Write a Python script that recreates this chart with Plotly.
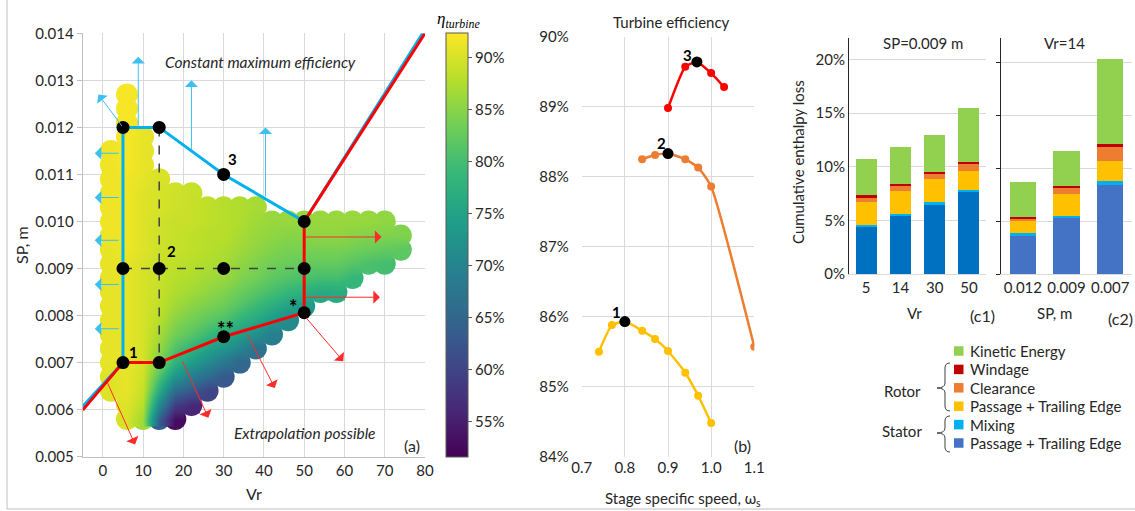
import plotly.graph_objects as go

# ---------------- data: panel (a) efficiency cloud ----------------
vr_cols = [2, 6, 10, 14, 18, 22, 26, 30, 34, 38, 42, 46, 50, 54, 58, 62, 66, 70, 74]
sp_rows = [0.0058, 0.0061, 0.0064, 0.0067, 0.0070, 0.0073, 0.0076, 0.0079, 0.0082, 0.0085,
           0.0088, 0.0091, 0.0094, 0.0097, 0.0100, 0.0103, 0.0106, 0.0109, 0.0112, 0.0115,
           0.0118, 0.0121, 0.0124, 0.0127]
col_start = [2, 0, 0, 0, 0, 1, 2, 3, 4, 5, 6, 7, 8, 9, 9, 10, 11, 11, 12]
col_eff = [
    [90.5, 90.5, 91, 91, 91, 91, 91, 91, 91, 91, 91, 91.5, 91.5, 91.5, 91.5, 91.5, 91.5, 91.5],
    [90, 90.5, 91, 91, 91, 91, 91, 91, 91, 91, 91, 91, 91.5, 91.5, 91.5, 91.5, 91.5, 91.5, 92, 92, 92, 92, 92, 92],
    [86.5, 88, 89, 89.5, 90, 90, 90, 90, 90, 90, 90, 90, 90.5, 90.5, 90.5, 90.5, 90.5, 91, 91, 91, 91],
    [64, 71, 77, 81, 84.5, 86, 87, 88, 88.5, 89, 89, 89, 89.5, 89.5, 89.5, 90, 90, 90],
    [53, 59, 66, 73, 78, 81, 83.5, 85, 86.5, 87.5, 88, 88.5, 89, 89, 89, 89.5, 89.5],
    [56, 63, 69, 74, 78, 81.5, 83.5, 85, 86.5, 87.5, 88, 88.5, 88.5, 89, 89, 89],
    [60, 66, 71, 75, 79, 82, 84, 85.5, 86.5, 87.5, 88, 88, 88.5, 88.5],
    [63, 68, 73, 77, 80.5, 83, 84.5, 86, 87, 87.5, 88, 88, 88],
    [65, 70, 74.5, 78, 81, 83, 84.5, 85.5, 86.5, 87, 87.5, 87.5],
    [67, 72, 76, 79, 81.5, 83.5, 84.5, 85.5, 86, 86.5, 87],
    [69, 73.5, 77, 80, 82, 83.5, 84.5, 85.5, 86],
    [71, 75, 78.5, 81, 83, 84, 85, 86],
    [73.5, 77.5, 80.5, 82.5, 84, 85, 86],
    [76, 80, 82.5, 84, 85.5, 86],
    [76.5, 80, 82.5, 84, 85.5, 86],
    [78.5, 81.5, 83.5, 85, 86],
    [80.5, 83, 84.5, 86],
    [80, 82.5, 84.5, 85.5],
    [82, 84.5],
]
eff_min, eff_max = 51.6, 92.4
cbar_ticks = [55, 60, 65, 70, 75, 80, 85, 90]

# design points and paths (panel a)
pts_vr = [5, 14, 30, 50, 5, 14, 30, 50, 5, 14, 30, 50]
pts_sp = [0.012, 0.012, 0.011, 0.010, 0.009, 0.009, 0.009, 0.009, 0.007, 0.007, 0.00755, 0.00806]
blue_vr = [-5, 5, 5, 14, 30, 50, 79.4]
blue_sp = [0.00607, 0.007, 0.012, 0.012, 0.011, 0.010, 0.014]
red_vr = [-5, 5, 14, 30, 50, 50, 80]
red_sp = [0.00599, 0.007, 0.007, 0.00755, 0.00806, 0.010, 0.014]
dash_v_vr = [14, 14]
dash_v_sp = [0.012, 0.007]
dash_h_vr = [5, 50]
dash_h_sp = [0.009, 0.009]
# arrows: tail (vr, sp) -> head (vr, sp)
blue_arrows = [
    (8.8, 0.0120, 8.8, 0.0135), (22, 0.0115, 22, 0.0130), (40.4, 0.0105, 40.4, 0.0120),
    (5, 0.0120, -1.1, 0.0127),
    (4.3, 0.01145, -2.0, 0.01145), (4.3, 0.01051, -2.0, 0.01051), (4.3, 0.0096, -2.0, 0.0096),
    (4.3, 0.00866, -2.0, 0.00866), (4.3, 0.00772, -2.0, 0.00772),
]
red_arrows = [
    (50, 0.00967, 69.2, 0.00967), (50, 0.00839, 68.8, 0.00839),
    (50.2, 0.00798, 59.7, 0.00703), (35.7, 0.00763, 42.7, 0.00646),
    (19.6, 0.00706, 26.2, 0.00583), (1.0, 0.0066, 8.0, 0.00526),
]
point_labels = [("1", 7.6, 0.00722, 15), ("2", 17.1, 0.00938, 15), ("3", 32.1, 0.01132, 15),
                ("*", 47.3, 0.00818, 20), ("**", 30.5, 0.00772, 20)]

# ---------------- data: panel (b) ----------------
omega_1 = [0.74, 0.77, 0.80, 0.84, 0.87, 0.90, 0.94, 0.97, 1.00]
eff_1 = [85.50, 85.88, 85.93, 85.80, 85.68, 85.51, 85.20, 84.87, 84.48]
omega_2 = [0.84, 0.87, 0.90, 0.94, 0.97, 1.00, 1.10]
eff_2 = [88.25, 88.31, 88.33, 88.25, 88.13, 87.86, 85.57]
omega_3 = [0.90, 0.94, 0.967, 1.00, 1.03]
eff_3 = [88.98, 89.57, 89.64, 89.48, 89.28]
b_labels = [("1", 0.78, 86.07), ("2", 0.886, 88.48), ("3", 0.946, 89.74)]

# ---------------- data: panel (c) ----------------
c1_cats = ["5", "14", "30", "50"]
c2_cats = ["0.012", "0.009", "0.007"]
loss_names = ["Passage + Trailing Edge", "Mixing", "Passage + Trailing Edge",
              "Clearance", "Windage", "Kinetic Energy"]
c1_loss = [
    [4.42, 5.45, 6.39, 7.60],   # stator passage + TE
    [0.16, 0.19, 0.34, 0.19],   # stator mixing
    [2.09, 2.12, 2.12, 1.84],   # rotor passage + TE
    [0.46, 0.50, 0.46, 0.59],   # rotor clearance
    [0.22, 0.15, 0.22, 0.22],   # rotor windage
    [3.40, 3.43, 3.43, 5.07],   # kinetic energy
]
c2_loss = [
    [3.68, 5.36, 8.41],
    [0.15, 0.15, 0.38],
    [1.15, 2.09, 1.93],
    [0.22, 0.50, 1.27],
    [0.22, 0.19, 0.32],
    [3.27, 3.36, 8.00],
]
c1_colors = ["#0070c0", "#00b0f0", "#ffc000", "#ed7d31", "#c00000", "#92d050"]
c2_colors = ["#4472c4", "#00b0f0", "#ffc000", "#ed7d31", "#c00000", "#92d050"]

# ---------------- helpers ----------------
W, H = 1135, 511
FONT = "Lato"
TXT = "#262626"
GRID = "#d9d9d9"


def px(x):
    return x / W


def py(y):
    return 1 - y / H


fig = go.Figure()

# cloud: circles (base subplot) + smooth interior (overlay subplot)
cx, cy, cc = [], [], []
zgrid = [[None] * len(vr_cols) for _ in sp_rows]
for i, vr in enumerate(vr_cols):
    for j, e in enumerate(col_eff[i]):
        cx.append(vr)
        cy.append(sp_rows[col_start[i] + j])
        cc.append(e)
        zgrid[col_start[i] + j][i] = e

fig.add_trace(go.Scatter(
    x=cx, y=cy, mode="markers", xaxis="x", yaxis="y", showlegend=False, hoverinfo="skip",
    marker=dict(size=22, color=cc, colorscale="Viridis", cmin=eff_min, cmax=eff_max,
                line=dict(width=0),
                colorbar=dict(x=px(446), xanchor="left", y=py(245), yanchor="middle",
                              len=424, lenmode="pixels", thickness=22, xpad=0, ypad=0,
                              outlinewidth=1, outlinecolor="#595959",
                              tickvals=cbar_ticks, ticktext=["%d%%" % v for v in cbar_ticks],
                              ticks="outside", ticklen=4, tickcolor="#595959",
                              tickfont=dict(family=FONT, size=15, color=TXT))),
))
fig.add_trace(go.Heatmap(
    x=vr_cols, y=sp_rows, z=zgrid, xaxis="x5", yaxis="y5", zsmooth="best",
    colorscale="Viridis", zmin=eff_min, zmax=eff_max, showscale=False, hoverinfo="skip",
))

# paths (overlay subplot, above the cloud)
fig.add_trace(go.Scatter(x=dash_v_vr, y=dash_v_sp, mode="lines", xaxis="x5", yaxis="y5",
                         showlegend=False, line=dict(color="#404040", width=1.5, dash="dash")))
fig.add_trace(go.Scatter(x=dash_h_vr, y=dash_h_sp, mode="lines", xaxis="x5", yaxis="y5",
                         showlegend=False, line=dict(color="#404040", width=1.5, dash="dash")))
fig.add_trace(go.Scatter(x=blue_vr, y=blue_sp, mode="lines", xaxis="x5", yaxis="y5",
                         showlegend=False, line=dict(color="#00b0f0", width=3)))
fig.add_trace(go.Scatter(x=red_vr, y=red_sp, mode="lines", xaxis="x5", yaxis="y5",
                         showlegend=False, line=dict(color="#ff0000", width=3)))
fig.add_trace(go.Scatter(x=pts_vr, y=pts_sp, mode="markers", xaxis="x5", yaxis="y5",
                         showlegend=False, marker=dict(size=13, color="black")))

annotations = []
for (x0, y0, x1, y1) in blue_arrows:
    annotations.append(dict(x=x1, y=y1, ax=x0, ay=y0, xref="x", yref="y", axref="x", ayref="y",
                            text="", showarrow=True, arrowhead=1, arrowsize=2.2, arrowwidth=1,
                            arrowcolor="#3cc0f2", standoff=0))
for (x0, y0, x1, y1) in red_arrows:
    annotations.append(dict(x=x1, y=y1, ax=x0, ay=y0, xref="x", yref="y", axref="x", ayref="y",
                            text="", showarrow=True, arrowhead=1, arrowsize=2.2, arrowwidth=1,
                            arrowcolor="#ff2a2a", standoff=0))
for (t, x, y, s) in point_labels:
    annotations.append(dict(x=x, y=y, xref="x", yref="y", text="<b>%s</b>" % t, showarrow=False,
                            font=dict(family=FONT, size=s, color="black")))

# panel (b)
for om, ef, col in [(omega_1, eff_1, "#ffc000"), (omega_2, eff_2, "#ed7d31"), (omega_3, eff_3, "#ff0000")]:
    fig.add_trace(go.Scatter(x=om, y=ef, mode="lines+markers", xaxis="x2", yaxis="y2",
                             showlegend=False, line=dict(color=col, width=2.5, shape="spline", smoothing=0.5),
                             marker=dict(size=8, color=col)))
    k = ef.index(max(ef))
    fig.add_trace(go.Scatter(x=[om[k]], y=[ef[k]], mode="markers", xaxis="x2", yaxis="y2",
                             showlegend=False, marker=dict(size=11, color="black")))
for (t, x, y) in b_labels:
    annotations.append(dict(x=x, y=y, xref="x2", yref="y2", text="<b>%s</b>" % t, showarrow=False,
                            font=dict(family=FONT, size=15, color="black")))

# panel (c)
for i in range(6):
    fig.add_trace(go.Bar(x=c1_cats, y=c1_loss[i], xaxis="x3", yaxis="y3", showlegend=False,
                         marker=dict(color=c1_colors[i], line=dict(width=0)), name=loss_names[i]))
for i in range(6):
    fig.add_trace(go.Bar(x=c2_cats, y=c2_loss[i], xaxis="x4", yaxis="y4", showlegend=False,
                         marker=dict(color=c2_colors[i], line=dict(width=0)), name=loss_names[i]))


# ---------------- texts ----------------
def txt(t, x, y, size=15, italic=False, angle=0, family=FONT, color=TXT, xanchor="center"):
    if italic:
        t = "<i>%s</i>" % t
    annotations.append(dict(x=px(x), y=py(y), xref="paper", yref="paper", text=t, showarrow=False,
                            textangle=angle, xanchor=xanchor, yanchor="middle",
                            font=dict(family=family, size=size, color=color)))


txt("Constant maximum efficiency", 260, 62, size=15.5, italic=True)
txt("Extrapolation possible", 305, 433, size=15.5, italic=True)
txt("(a)", 412, 445, size=16)
txt("SP, m", 22, 245, size=16, angle=-90)
txt("Vr", 254, 493, size=16)
txt("<i>η</i><sub><i>turbine</i></sub>", 459, 20, size=17, family="Liberation Serif", color="black")
txt("Turbine efficiency", 671, 22, size=15)
txt("(b)", 742, 445, size=16)
txt("Stage specific speed, ω<sub>s</sub>", 683, 499, size=15)
txt("SP=0.009 m", 923, 43, size=15)
txt("Vr=14", 1064, 43, size=15)
txt("Cumulative enthalpy loss", 798, 162, size=15, angle=-90)
txt("Vr", 914, 313, size=15)
txt("(c1)", 982, 315, size=16)
txt("SP, m", 1054, 313, size=15)
txt("(c2)", 1120, 318, size=16)
txt("Rotor", 902, 391, size=15)
txt("Stator", 902, 431, size=15)

# manual legend (top to bottom: reversed stacking order)
legend_rows = [351, 369.4, 387.8, 406.2, 424.6, 443]
shapes = []
for r, idx in zip(legend_rows, [5, 4, 3, 2, 1, 0]):
    shapes.append(dict(type="rect", xref="paper", yref="paper", x0=px(954), x1=px(963.5),
                       y0=py(r + 4.75), y1=py(r - 4.75), line=dict(width=0),
                       fillcolor=c2_colors[idx]))
    txt(loss_names[idx], 968, r, size=15, xanchor="left")


def brace(xv, ytop, ybot, ymid, w=5, tip=8):
    pts = []
    pts.append("M %f,%f" % (px(xv + w), py(ytop)))
    pts.append("Q %f,%f %f,%f" % (px(xv), py(ytop), px(xv), py(ytop + w)))
    pts.append("L %f,%f" % (px(xv), py(ymid - w)))
    pts.append("Q %f,%f %f,%f" % (px(xv), py(ymid), px(xv - tip), py(ymid)))
    pts.append("M %f,%f" % (px(xv - tip), py(ymid)))
    pts.append("Q %f,%f %f,%f" % (px(xv), py(ymid), px(xv), py(ymid + w)))
    pts.append("L %f,%f" % (px(xv), py(ybot - w)))
    pts.append("Q %f,%f %f,%f" % (px(xv), py(ybot), px(xv + w), py(ybot)))
    return dict(type="path", xref="paper", yref="paper", path=" ".join(pts),
                line=dict(color="#404040", width=1))


shapes += [
    brace(945, 363, 411, 388),
    brace(945, 416, 452, 433),
    dict(type="line", xref="paper", yref="paper", x0=px(7), x1=px(7), y0=py(0), y1=py(509),
         line=dict(color="#bfbfbf", width=1)),
    dict(type="line", xref="paper", yref="paper", x0=px(7), x1=px(1135), y0=py(509), y1=py(509),
         line=dict(color="#bfbfbf", width=1)),
]

tickfont = dict(family=FONT, size=15, color=TXT)
tickfont_s = dict(family=FONT, size=15, color=TXT)

fig.update_layout(
    width=W, height=H, margin=dict(l=0, r=0, t=0, b=0, autoexpand=False),
    paper_bgcolor="white", plot_bgcolor="white", showlegend=False,
    barmode="stack", bargap=0.39,
    annotations=annotations, shapes=shapes,
    xaxis=dict(domain=[px(82.7), px(425)], range=[-5, 80], dtick=10, tick0=0, showgrid=True,
               gridcolor=GRID, zeroline=False, showline=True, linecolor="#bfbfbf",
               tickfont=tickfont, anchor="y", automargin=False),
    yaxis=dict(domain=[py(456.7), py(33.3)], range=[0.005, 0.014], dtick=0.001, tick0=0.005,
               tickformat=".3f", showgrid=True, gridcolor=GRID, zeroline=False, showline=True,
               linecolor="#bfbfbf", ticks="outside", ticklen=5, tickcolor="#bfbfbf",
               tickfont=tickfont, anchor="x", automargin=False),
    xaxis5=dict(overlaying="x", range=[-5, 80], visible=False, anchor="y5", automargin=False),
    yaxis5=dict(overlaying="y", range=[0.005, 0.014], visible=False, anchor="x5", automargin=False),
    xaxis2=dict(domain=[px(581.7), px(754.3)], range=[0.7, 1.1], dtick=0.1, tick0=0.7,
                tickformat=".1f", showgrid=True, gridcolor=GRID, zeroline=False, showline=False,
                tickfont=tickfont, anchor="y2", automargin=False),
    yaxis2=dict(domain=[py(456.7), py(36.7)], range=[84, 90], dtick=1, ticksuffix="%",
                showgrid=True, gridcolor=GRID, zeroline=False, showline=False,
                ticklabelstandoff=12, tickfont=tickfont, anchor="x2", automargin=False),
    xaxis3=dict(domain=[px(849), px(986)], type="category", showgrid=False, showline=True,
                linecolor=GRID, tickfont=tickfont_s, anchor="y3", automargin=False),
    yaxis3=dict(domain=[py(274), py(38)], range=[0, 22], dtick=5, ticksuffix="%",
                showgrid=True, gridcolor=GRID, zeroline=False, showline=True, linecolor="#262626",
                tickfont=tickfont_s, anchor="x3", automargin=False),
    xaxis4=dict(domain=[px(1001), px(1132)], type="category", showgrid=False, showline=True,
                linecolor=GRID, tickfont=tickfont_s, anchor="y4", automargin=False),
    yaxis4=dict(domain=[py(274), py(38)], range=[0, 22.3], dtick=5, showticklabels=False,
                ticks="outside", ticklen=4, tickcolor="#262626",
                showgrid=True, gridcolor=GRID, zeroline=False, showline=True, linecolor="#262626",
                anchor="x4", automargin=False),
)

fig.write_html("out.html", config={"displayModeBar": False},
               post_script="document.body.style.margin='0';document.body.style.overflow='hidden';")
